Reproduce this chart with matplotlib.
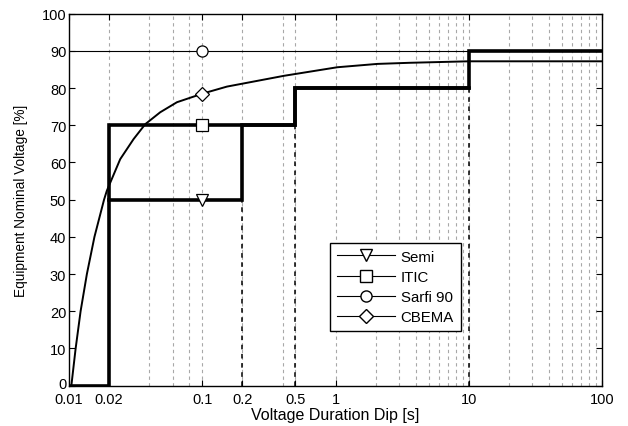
import matplotlib
matplotlib.use('Agg')
import matplotlib.pyplot as plt
import matplotlib.transforms as mtransforms
from matplotlib.lines import Line2D

plt.rcParams['font.family'] = ['Liberation Sans', 'DejaVu Sans']
plt.rcParams['font.size'] = 10

# ITIC curve (duration [s], voltage [%])
itic_t = [0.01, 0.02, 0.02, 0.5, 0.5, 10, 10, 100]
itic_v = [0, 0, 70, 70, 80, 80, 90, 90]

# Semi F47 curve
semi_t = [0.02, 0.2, 0.2, 0.5, 0.5, 10]
semi_v = [50, 50, 70, 70, 80, 80]

# Sarfi 90 level
sarfi_t = [0.01, 100]
sarfi_v = [90, 90]

# CBEMA curve
cbema_t = [0.0104, 0.0112, 0.0122, 0.0136, 0.0155, 0.0183, 0.0192, 0.0242,
           0.0305, 0.0373, 0.0483, 0.0645, 0.1, 0.153, 0.23, 0.41, 1.03,
           2.06, 3.6, 10, 100]
cbema_v = [0, 10, 20, 30, 40, 50, 52.4, 60.9,
           66.3, 70.3, 73.5, 76.2, 78.5, 80.4, 81.6, 83.3, 85.6,
           86.5, 86.8, 87.2, 87.2]

# marker positions at t = 0.1
mark_t = 0.1
semi_mark, itic_mark, sarfi_mark, cbema_mark = 50, 70, 90, 78.5

# dashed drop lines under the step corners
drop_t = [0.2, 0.5, 10]
drop_v = [50, 70, 80]

xticks = [0.01, 0.02, 0.1, 0.2, 0.5, 1, 10, 100]
xticklabels = ['0.01', '0.02', '0.1', '0.2', '0.5', '1', '10', '100']
xminor = [0.04, 0.06, 0.08, 0.4, 2, 3, 4, 5, 6, 7, 8, 9,
          20, 30, 40, 50, 60, 70, 80, 90]
yticks = list(range(0, 101, 10))

fig = plt.figure(figsize=(6.28, 4.27), dpi=100)
ax = fig.add_axes([0.110, 0.0944, 0.8486, 0.8712])

ax.set_xscale('log')
ax.set_xlim(0.01, 100)
ax.set_ylim(0, 100)

# grid (vertical only)
for t in xticks[1:-1] + xminor:
    ax.axvline(t, color='#a8a8a8', linestyle=(0, (3, 3)), linewidth=0.8, zorder=1)

ax.vlines(drop_t, 0, drop_v, colors='black', linestyles=(0, (3, 3)), linewidth=1.1, zorder=2)

ax.plot(sarfi_t, sarfi_v, color='black', linewidth=0.8, zorder=3)
ax.plot(cbema_t, cbema_v, color='black', linewidth=1.4, zorder=3)
ax.plot(semi_t, semi_v, color='black', linewidth=2.6, solid_joinstyle='miter', zorder=4)
ax.plot(itic_t, itic_v, color='black', linewidth=2.6, solid_joinstyle='miter', zorder=4)

mk = dict(markerfacecolor='white', markeredgecolor='black', markersize=8,
          markeredgewidth=0.9, linestyle='none', zorder=5)
ax.plot([mark_t], [semi_mark], marker='v', **mk)
ax.plot([mark_t], [itic_mark], marker='s', **mk)
ax.plot([mark_t], [sarfi_mark], marker='o', **mk)
ax.plot([mark_t], [cbema_mark], marker='D', **dict(mk, markersize=7))

ax.set_xticks(xticks)
ax.set_xticklabels(xticklabels)
ax.set_xticks([], minor=True)
ax.set_yticks(yticks)
ax.tick_params(direction='in', length=4, width=0.8, top=True, right=True,
               labelsize=10.5, colors='black')
ax.tick_params(axis='x', pad=4.5)
ax.tick_params(axis='y', pad=2)
for s in ax.spines.values():
    s.set_linewidth(1.0)

# nudge the "0" label up a little so it clears "0.01"
zero_lbl = ax.get_yticklabels()[0]
zero_lbl.set_transform(zero_lbl.get_transform() +
                       mtransforms.ScaledTranslation(0, 2.5 / 72, fig.dpi_scale_trans))

ax.set_xlabel('Voltage Duration Dip [s]', fontsize=11.5, labelpad=1)
ax.set_ylabel('Equipment Nominal Voltage [%]', fontsize=9.8, labelpad=10)

handles = [
    Line2D([], [], color='black', linewidth=0.8, marker='v', markerfacecolor='white',
           markeredgecolor='black', markersize=8),
    Line2D([], [], color='black', linewidth=0.8, marker='s', markerfacecolor='white',
           markeredgecolor='black', markersize=8),
    Line2D([], [], color='black', linewidth=0.8, marker='o', markerfacecolor='white',
           markeredgecolor='black', markersize=8),
    Line2D([], [], color='black', linewidth=0.8, marker='D', markerfacecolor='white',
           markeredgecolor='black', markersize=7),
]
leg = ax.legend(handles, ['Semi', 'ITIC', 'Sarfi 90', 'CBEMA'],
                loc='upper left', bbox_to_anchor=(0.490, 0.384),
                fontsize=10.8, frameon=True, fancybox=False, framealpha=1,
                edgecolor='black', handlelength=3.9, handletextpad=0.35,
                labelspacing=0.42, borderpad=0.45, borderaxespad=0)
leg.get_frame().set_linewidth(1.0)

fig.savefig('out.png', dpi=100)
